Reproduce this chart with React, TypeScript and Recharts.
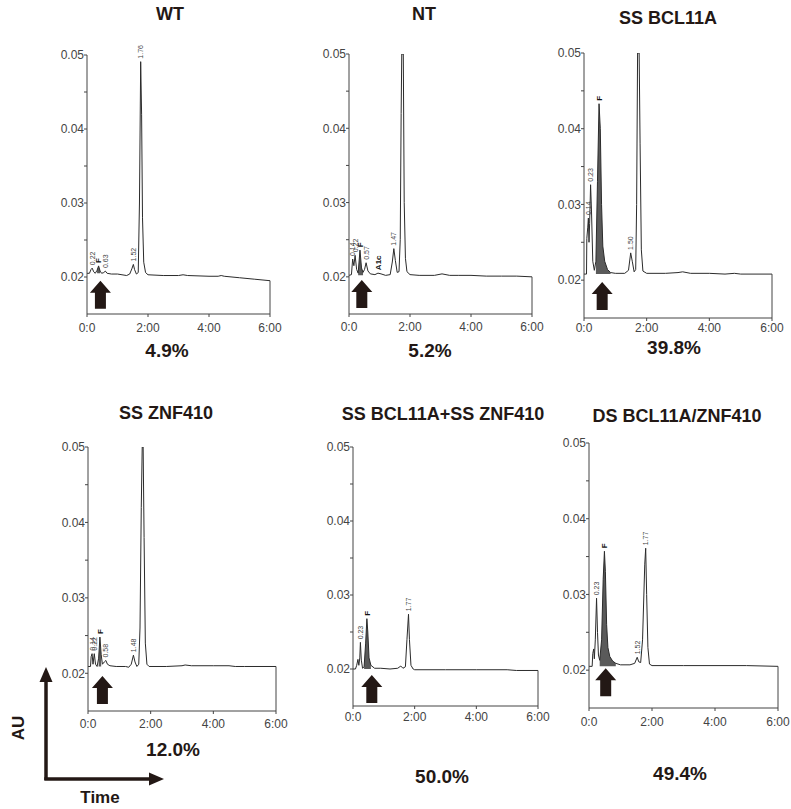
import React from 'react';
import { ComposedChart, Line, Area, XAxis, YAxis, ReferenceDot, ReferenceLine } from 'recharts';

const FONT = '"Liberation Sans", Arial, Helvetica, sans-serif';
const INK = '#231815';

const TITLES = ['WT', 'NT', 'SS BCL11A', 'SS ZNF410', 'SS BCL11A+SS ZNF410', 'DS BCL11A/ZNF410'];
const PERCENTS = ['4.9%', '5.2%', '39.8%', '12.0%', '50.0%', '49.4%'];
const TIME_TICKS = [0, 2, 4, 6];
const AU_TICKS = [0.02, 0.025, 0.03, 0.035, 0.04, 0.045, 0.05];

// WT
const WT_T = [0, 0.08, 0.13, 0.17, 0.22, 0.27, 0.33, 0.38, 0.43, 0.48, 0.55, 0.6, 0.66, 0.8, 1.0, 1.3, 1.4, 1.47, 1.52, 1.56, 1.62, 1.68, 1.72, 1.76, 1.79, 1.82, 1.86, 1.92, 2.0, 2.5, 3.0, 3.15, 3.3, 4.0, 4.3, 4.4, 4.5, 5.0, 5.5, 6.0];
const WT_AU = [0.0205, 0.0205, 0.021, 0.0212, 0.0207, 0.0205, 0.0209, 0.0215, 0.0208, 0.0205, 0.0206, 0.0208, 0.0205, 0.0204, 0.0204, 0.0202, 0.0204, 0.0211, 0.0217, 0.021, 0.0204, 0.0206, 0.03, 0.0491, 0.042, 0.028, 0.022, 0.0206, 0.0203, 0.0202, 0.0202, 0.0203, 0.0202, 0.0201, 0.0201, 0.0202, 0.0201, 0.0199, 0.0197, 0.0195];
const WT_PEAK_T = [0.17, 0.38, 0.6, 1.52, 1.76];
const WT_PEAK_AU = [0.0212, 0.0215, 0.0208, 0.0217, 0.0491];
const WT_PEAK_LABELS = ['0.22', 'F', '0.63', '1.52', '1.76'];
const WT_F = [0.3, 0.46];
const WT_BASE = 0.0205;
const WT_ARROW = [0.44, 0.0176];

// NT
const NT_T = [0, 0.08, 0.12, 0.16, 0.2, 0.25, 0.3, 0.36, 0.41, 0.46, 0.51, 0.56, 0.62, 0.7, 0.85, 0.95, 1.05, 1.2, 1.35, 1.42, 1.47, 1.52, 1.58, 1.64, 1.68, 1.71, 1.73, 1.78, 1.81, 1.85, 1.9, 2.0, 2.3, 2.8, 3.05, 3.3, 3.6, 4.0, 4.5, 5.0, 5.5, 6.0];
const NT_AU = [0.0202, 0.0203, 0.0224, 0.0215, 0.0229, 0.021, 0.0205, 0.0236, 0.0212, 0.0206, 0.021, 0.0219, 0.0208, 0.0204, 0.0203, 0.0205, 0.0204, 0.0202, 0.0203, 0.022, 0.0238, 0.0222, 0.0206, 0.0207, 0.025, 0.042, 0.05, 0.05, 0.03, 0.0225, 0.0207, 0.0203, 0.0202, 0.0202, 0.0204, 0.0202, 0.0202, 0.0202, 0.0201, 0.0201, 0.0201, 0.02];
const NT_PEAK_T = [0.12, 0.2, 0.36, 0.56, 0.95, 1.47];
const NT_PEAK_AU = [0.0224, 0.0229, 0.0236, 0.0219, 0.0205, 0.0238];
const NT_PEAK_LABELS = ['0.14', '0.22', 'F', '0.57', 'A1c', '1.47'];
const NT_F = [0.3, 0.46];
const NT_BASE = 0.0202;
const NT_ARROW = [0.42, 0.0177];

// SS BCL11A
const B_T = [0, 0.08, 0.09, 0.12, 0.14, 0.16, 0.18, 0.21, 0.24, 0.28, 0.33, 0.38, 0.43, 0.48, 0.52, 0.56, 0.6, 0.66, 0.75, 0.85, 1.0, 1.3, 1.42, 1.49, 1.54, 1.6, 1.65, 1.68, 1.71, 1.76, 1.79, 1.83, 1.88, 2.0, 2.6, 3.0, 3.15, 3.4, 4.0, 4.5, 4.8, 5.0, 6.0];
const B_AU = [0.0208, 0.0208, 0.0255, 0.027, 0.0282, 0.025, 0.0275, 0.0326, 0.029, 0.0225, 0.0213, 0.0225, 0.033, 0.0433, 0.04, 0.03, 0.0245, 0.0225, 0.0214, 0.021, 0.0209, 0.0209, 0.0213, 0.0236, 0.0225, 0.0211, 0.0214, 0.03, 0.05, 0.05, 0.038, 0.024, 0.0212, 0.0209, 0.0209, 0.021, 0.0211, 0.0209, 0.0209, 0.0208, 0.0209, 0.0208, 0.0208];
const B_PEAK_T = [0.14, 0.21, 0.48, 1.49];
const B_PEAK_AU = [0.0282, 0.0326, 0.0433, 0.0236];
const B_PEAK_LABELS = ['0.14', '0.23', 'F', '1.50'];
const B_F = [0.36, 0.85];
const B_BASE = 0.0208;
const B_ARROW = [0.58, 0.0179];

// SS ZNF410
const Z_T = [0, 0.08, 0.1, 0.13, 0.16, 0.2, 0.24, 0.29, 0.34, 0.38, 0.42, 0.46, 0.52, 0.57, 0.62, 0.7, 0.9, 1.2, 1.3, 1.38, 1.45, 1.5, 1.56, 1.62, 1.66, 1.7, 1.73, 1.76, 1.79, 1.83, 1.88, 1.95, 2.5, 3.0, 3.1, 3.3, 4.0, 4.5, 4.7, 5.0, 6.0];
const Z_AU = [0.0209, 0.0209, 0.0222, 0.0226, 0.0212, 0.0226, 0.0212, 0.0209, 0.022, 0.0248, 0.0225, 0.0212, 0.0215, 0.0217, 0.0212, 0.021, 0.0209, 0.0209, 0.0208, 0.0212, 0.0224, 0.0215, 0.0209, 0.0212, 0.026, 0.042, 0.05, 0.05, 0.038, 0.024, 0.0212, 0.0209, 0.0209, 0.021, 0.0211, 0.021, 0.021, 0.021, 0.0209, 0.0209, 0.0209];
const Z_PEAK_T = [0.13, 0.2, 0.38, 0.57, 1.45];
const Z_PEAK_AU = [0.0226, 0.0226, 0.0248, 0.0217, 0.0224];
const Z_PEAK_LABELS = ['0.14', '0.22', 'F', '0.58', '1.48'];
const Z_F = [0.32, 0.45];
const Z_BASE = 0.0209;
const Z_ARROW = [0.46, 0.0178];

// SS BCL11A + SS ZNF410
const BZ_T = [0, 0.08, 0.12, 0.16, 0.19, 0.22, 0.24, 0.27, 0.31, 0.36, 0.41, 0.45, 0.48, 0.52, 0.58, 0.7, 0.9, 1.2, 1.45, 1.55, 1.62, 1.7, 1.75, 1.8, 1.83, 1.88, 1.95, 2.0, 3.0, 4.0, 5.0, 5.3, 6.0];
const BZ_AU = [0.02, 0.02, 0.0205, 0.0213, 0.0205, 0.0215, 0.0236, 0.0212, 0.0201, 0.0203, 0.0235, 0.0268, 0.025, 0.0215, 0.0205, 0.0201, 0.0201, 0.02, 0.0201, 0.0204, 0.0201, 0.0203, 0.024, 0.0274, 0.024, 0.0205, 0.02, 0.0199, 0.0199, 0.0199, 0.0199, 0.0198, 0.0198];
const BZ_PEAK_T = [0.24, 0.45, 1.8];
const BZ_PEAK_AU = [0.0236, 0.0268, 0.0274];
const BZ_PEAK_LABELS = ['0.23', 'F', '1.77'];
const BZ_F = [0.36, 0.6];
const BZ_BASE = 0.02;
const BZ_ARROW = [0.61, 0.0173];

// DS BCL11A/ZNF410
const DS_T = [0, 0.1, 0.12, 0.15, 0.17, 0.2, 0.24, 0.27, 0.3, 0.34, 0.4, 0.45, 0.49, 0.52, 0.56, 0.6, 0.66, 0.75, 0.85, 1.0, 1.3, 1.45, 1.53, 1.58, 1.64, 1.7, 1.77, 1.8, 1.83, 1.87, 1.92, 2.0, 3.0, 4.0, 5.0, 6.0];
const DS_AU = [0.0205, 0.0205, 0.0222, 0.0228, 0.0215, 0.024, 0.0295, 0.025, 0.022, 0.0213, 0.024, 0.032, 0.0357, 0.033, 0.026, 0.023, 0.0218, 0.0212, 0.0209, 0.0207, 0.0207, 0.0209, 0.0217, 0.0211, 0.021, 0.024, 0.034, 0.0361, 0.03, 0.023, 0.0208, 0.0206, 0.0206, 0.0206, 0.0206, 0.0205];
const DS_PEAK_T = [0.24, 0.49, 1.53, 1.8];
const DS_PEAK_AU = [0.0295, 0.0357, 0.0217, 0.0361];
const DS_PEAK_LABELS = ['0.23', 'F', '1.52', '1.77'];
const DS_F = [0.34, 0.9];
const DS_BASE = 0.0205;
const DS_ARROW = [0.53, 0.0184];

const SERIES = [
  { t: WT_T, au: WT_AU, pt: WT_PEAK_T, pau: WT_PEAK_AU, pl: WT_PEAK_LABELS, f: WT_F, base: WT_BASE, arrow: WT_ARROW },
  { t: NT_T, au: NT_AU, pt: NT_PEAK_T, pau: NT_PEAK_AU, pl: NT_PEAK_LABELS, f: NT_F, base: NT_BASE, arrow: NT_ARROW },
  { t: B_T, au: B_AU, pt: B_PEAK_T, pau: B_PEAK_AU, pl: B_PEAK_LABELS, f: B_F, base: B_BASE, arrow: B_ARROW },
  { t: Z_T, au: Z_AU, pt: Z_PEAK_T, pau: Z_PEAK_AU, pl: Z_PEAK_LABELS, f: Z_F, base: Z_BASE, arrow: Z_ARROW },
  { t: BZ_T, au: BZ_AU, pt: BZ_PEAK_T, pau: BZ_PEAK_AU, pl: BZ_PEAK_LABELS, f: BZ_F, base: BZ_BASE, arrow: BZ_ARROW },
  { t: DS_T, au: DS_AU, pt: DS_PEAK_T, pau: DS_PEAK_AU, pl: DS_PEAK_LABELS, f: DS_F, base: DS_BASE, arrow: DS_ARROW },
];

// pixel placement of each panel's plot box + its title/percent text
const LAYOUT = [
  { axisX: 87, right: 270, top: 55, bottom: 314, gap: 6, titleX: 170, titleY: 15, pctX: 167, pctY: 351 },
  { axisX: 349, right: 532, top: 54, bottom: 314, gap: 5, titleX: 424, titleY: 15, pctX: 430, pctY: 351 },
  { axisX: 584, right: 772, top: 53, bottom: 318, gap: 2, titleX: 668, titleY: 19, pctX: 674, pctY: 348 },
  { axisX: 88, right: 276, top: 447, bottom: 711, gap: 5, titleX: 166, titleY: 414, pctX: 173, pctY: 750 },
  { axisX: 353, right: 538, top: 447, bottom: 706, gap: 3, titleX: 443, titleY: 415, pctX: 442, pctY: 777 },
  { axisX: 589, right: 778, top: 443, bottom: 708, gap: 6, titleX: 677, titleY: 417, pctX: 680, pctY: 774 },
];

const YW = 36;
const MR = 12;
const MT = 10;
const XH = 26;

const isMajor = (v: number) => Math.abs(v * 100 - Math.round(v * 100)) < 1e-6;

const PeakLabel = (text: string) => (props: any) => {
  const { cx, cy } = props;
  const y = cy - 3;
  const bold = text === 'A1c' || text === 'F';
  return (
    <text
      x={cx}
      y={y}
      transform={`rotate(-90 ${cx} ${y})`}
      dy="0.35em"
      textAnchor="start"
      fontSize={bold ? 8 : 7}
      fontWeight={bold ? 700 : 400}
      fontFamily={FONT}
      fill={bold ? '#111' : '#444'}
    >
      {text}
    </text>
  );
};

const UpArrow = (props: any) => {
  const { cx, cy } = props;
  const top = cy - 14;
  const d = `M${cx},${top} L${cx + 10.5},${top + 12} L${cx + 5.5},${top + 12} L${cx + 5.5},${top + 28} L${cx - 5.5},${top + 28} L${cx - 5.5},${top + 12} L${cx - 10.5},${top + 12} Z`;
  return <path d={d} fill={INK} />;
};

const Chromatogram = ({ idx }: { idx: number }) => {
  const s = SERIES[idx];
  const L = LAYOUT[idx];
  const data = s.t.map((t, i) => ({
    t,
    au: s.au[i],
    f: t >= s.f[0] && t <= s.f[1] ? [s.base, s.au[i]] : null,
  }));
  const last = s.au[s.au.length - 1];
  const width = L.right - L.axisX + YW + MR;
  const height = L.bottom - L.top + MT + XH;
  return (
    <div style={{ position: 'absolute', left: L.axisX - YW, top: L.top - MT, width, height }}>
      <ComposedChart width={width} height={height} data={data} margin={{ top: MT, right: MR, bottom: 0, left: 0 }}>
        <XAxis
          dataKey="t"
          type="number"
          domain={[0, 6]}
          ticks={TIME_TICKS}
          height={XH}
          tickSize={3}
          tickMargin={L.gap}
          interval={0}
          stroke="#444"
          tick={{ fontSize: 12, fill: '#444', fontFamily: FONT }}
          tickFormatter={(v: number) => (v === 0 ? '0:0' : `${v}:00`)}
        />
        <YAxis
          type="number"
          domain={[0.015, 0.05]}
          allowDataOverflow
          ticks={AU_TICKS}
          width={YW}
          tickSize={3}
          tickMargin={0}
          interval={0}
          stroke="#444"
          tick={{ fontSize: 12, fill: '#444', fontFamily: FONT }}
          tickFormatter={(v: number) => (isMajor(v) ? v.toFixed(2) : '')}
        />
        <Area type="linear" dataKey="f" stroke="none" fill="#5a5a5a" fillOpacity={1} isAnimationActive={false} />
        <Line type="linear" dataKey="au" stroke="#2b2b2b" strokeWidth={1} dot={false} isAnimationActive={false} />
        <ReferenceLine segment={[{ x: 6, y: last }, { x: 6, y: 0.015 }]} stroke="#444" strokeWidth={1} />
        {s.pt.map((t, i) => (
          <ReferenceDot key={i} x={t} y={s.pau[i]} r={0} shape={PeakLabel(s.pl[i])} />
        ))}
        <ReferenceDot x={s.arrow[0]} y={s.arrow[1]} r={0} shape={UpArrow} />
      </ComposedChart>
    </div>
  );
};

const centered = (x: number, y: number, size: number): React.CSSProperties => ({
  position: 'absolute',
  left: x - 150,
  top: y - size * 0.6,
  width: 300,
  textAlign: 'center',
  fontFamily: FONT,
  fontWeight: 700,
  fontSize: size,
  lineHeight: `${size * 1.2}px`,
  color: INK,
  whiteSpace: 'nowrap',
});

export default function App() {
  return (
    <div style={{ position: 'absolute', left: 0, top: 0, width: 791, height: 809, background: '#fff', overflow: 'hidden' }}>
      {LAYOUT.map((L, i) => (
        <React.Fragment key={i}>
          <div style={centered(L.titleX, L.titleY, 18)}>{TITLES[i]}</div>
          <Chromatogram idx={i} />
          <div style={centered(L.pctX, L.pctY, 19)}>{PERCENTS[i]}</div>
        </React.Fragment>
      ))}
      <svg width={791} height={809} style={{ position: 'absolute', left: 0, top: 0, pointerEvents: 'none' }}>
        <line x1={46} y1={780} x2={46} y2={680} stroke={INK} strokeWidth={3.5} />
        <polygon points="39.5,682 52.5,682 46,667" fill={INK} />
        <line x1={44.3} y1={779} x2={150} y2={779} stroke={INK} strokeWidth={3.5} />
        <polygon points="149,772.5 149,785.5 164,779" fill={INK} />
        <text x={18} y={728} transform="rotate(-90 18 728)" textAnchor="middle" dominantBaseline="central" fontFamily={FONT} fontWeight={700} fontSize={17} fill={INK}>
          AU
        </text>
        <text x={100} y={797} textAnchor="middle" dominantBaseline="central" fontFamily={FONT} fontWeight={700} fontSize={17} fill={INK}>
          Time
        </text>
      </svg>
    </div>
  );
}
